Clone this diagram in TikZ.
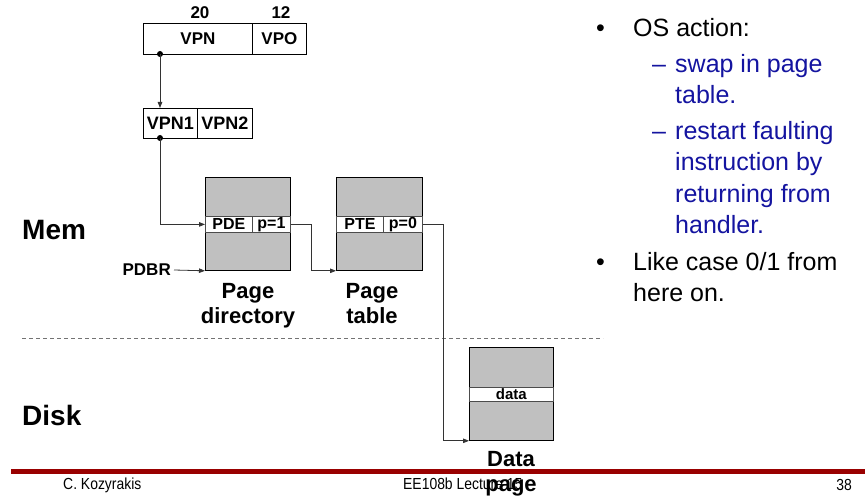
\documentclass[tikz,border=0pt]{standalone}
\usepackage{fontspec}
\setmainfont{Liberation Sans}
\usetikzlibrary{arrows.meta}
\definecolor{boxgray}{RGB}{192,192,192}
\definecolor{txtblue}{RGB}{20,20,160}
\definecolor{footred}{RGB}{153,0,0}
\newcommand{\fsz}[1]{\fontsize{#1}{#1}\selectfont}
\begin{document}
\begin{tikzpicture}[x=1pt,y=-1pt,
  cell/.style={draw=black,line width=0.8pt,fill=white,inner sep=0pt,anchor=north west,font=\fsz{17}\bfseries},
  memblk/.style={draw=black,line width=0.8pt,fill=boxgray,inner sep=0pt,anchor=north west},
  strip/.style={draw=black!70,line width=0.8pt,fill=white,inner sep=0pt,anchor=north west,minimum height=16pt,font=\fsz{16}\bfseries},
  conn/.style={draw=black!80,line width=0.8pt},
  tip/.style={-{Triangle[length=6pt,width=4.5pt]}},
  dotc/.style={circle,fill=black,inner sep=0pt,minimum size=6pt},
  biglab/.style={font=\fsz{22}\bfseries,align=center,inner sep=0pt},
  sidelab/.style={font=\fsz{28}\bfseries,anchor=west,inner sep=0pt},
  bodytxt/.style={font=\fsz{25},anchor=base west,inner sep=0pt},
  foot/.style={font=\fsz{16},inner sep=0pt}
]
\useasboundingbox (0,0) rectangle (865,500);
\fill[white] (0,0) rectangle (865,500);

% VPN / VPO box
\node[cell,minimum width=109pt,minimum height=31pt] (vpn) at (143,23) {VPN};
\node[cell,minimum width=54pt,minimum height=31pt] (vpo) at (252,23) {VPO};
\node[font=\fsz{17}\bfseries,inner sep=0pt] (n20) at (200,13) {20};
\node[font=\fsz{17}\bfseries,inner sep=0pt] (n12) at (281,13) {12};

% VPN1 / VPN2 box
\node[cell,minimum width=54pt,minimum height=30pt,font=\fsz{18}\bfseries] (vpn1) at (143,108) {VPN1};
\node[cell,minimum width=55pt,minimum height=30pt,font=\fsz{18}\bfseries] (vpn2) at (197,108) {VPN2};

% Page directory
\node[memblk,minimum width=85pt,minimum height=93pt] (pd) at (205,177) {};
\node[strip,minimum width=47pt] (pde) at (205,216) {PDE};
\node[strip,minimum width=38pt] (p1) at (252,216) {p=1};

% Page table
\node[memblk,minimum width=86pt,minimum height=93pt] (pt) at (336,177) {};
\node[strip,minimum width=47pt] (pte) at (336,216) {PTE};
\node[strip,minimum width=39pt] (p0) at (383,216) {p=0};

% Data page
\node[memblk,minimum width=84pt,minimum height=93pt] (dp) at (469,347) {};
\node[strip,minimum width=84pt,minimum height=14pt,font=\fsz{15}\bfseries] (dat) at (469,387) {data};

% labels
\node[biglab] (pdlab) at (248,306) {Page\\[3pt]directory};
\node[biglab] (ptlab) at (372,304) {Page\\[3pt]table};
\node[sidelab] (mem) at (22,230) {Mem};
\node[sidelab] (disk) at (22,415) {Disk};
\node[font=\fsz{17}\bfseries,anchor=east,inner sep=0pt] (pdbr) at (171,270) {PDBR};

% dashed separator
\draw[black!55,line width=0.8pt,dash pattern=on 4pt off 3pt] (22,338) -- (603,338);

% connectors
\node[dotc] (d1) at (160,54) {};
\node[dotc] (d2) at (160,138) {};
\draw[conn,tip] (d1.center) -- (d1.center |- vpn1.north);
\draw[conn,tip] (d2.center) |- (pde.west);
\draw[conn,tip] (pdbr.east) ++(3,0) -- (pd.south west);
\draw[conn,tip] (p1.east) -- ++(21,0) |- (pt.south west);
\draw[conn,tip] (p0.east) -- ++(21,0) |- (dp.south west);

% footer
\fill[footred] (11,469) rectangle (865,473.5);
\node[foot,anchor=west] (f1) at (63,485) {\scalebox{0.87}[1]{C. Kozyrakis}};
\node[foot,anchor=west] (f2) at (403,484) {\scalebox{0.87}[1]{EE108b Lecture 15}};
\node[foot,anchor=east] (f3) at (852,485) {\scalebox{0.87}[1]{38}};
\node[biglab,fill=none] (dplab) at (511,474) {Data\\[3pt]page};

% right-hand text
\node[bodytxt] (b1) at (596,37) {•};
\node[bodytxt] (t1) at (633,37) {OS action:};
\node[bodytxt,txtblue] (s1) at (652,73) {–};
\node[bodytxt,txtblue] (t2) at (675,73) {swap in page};
\node[bodytxt,txtblue] (t3) at (675,104) {table.};
\node[bodytxt,txtblue] (s2) at (652,140) {–};
\node[bodytxt,txtblue] (t4) at (675,140) {restart faulting};
\node[bodytxt,txtblue] (t5) at (675,171) {instruction by};
\node[bodytxt,txtblue] (t6) at (675,202) {returning from};
\node[bodytxt,txtblue] (t7) at (675,233) {handler.};
\node[bodytxt] (b2) at (596,270) {•};
\node[bodytxt] (t8) at (633,270) {Like case 0/1 from};
\node[bodytxt] (t9) at (633,301) {here on.};
\end{tikzpicture}
\end{document}
